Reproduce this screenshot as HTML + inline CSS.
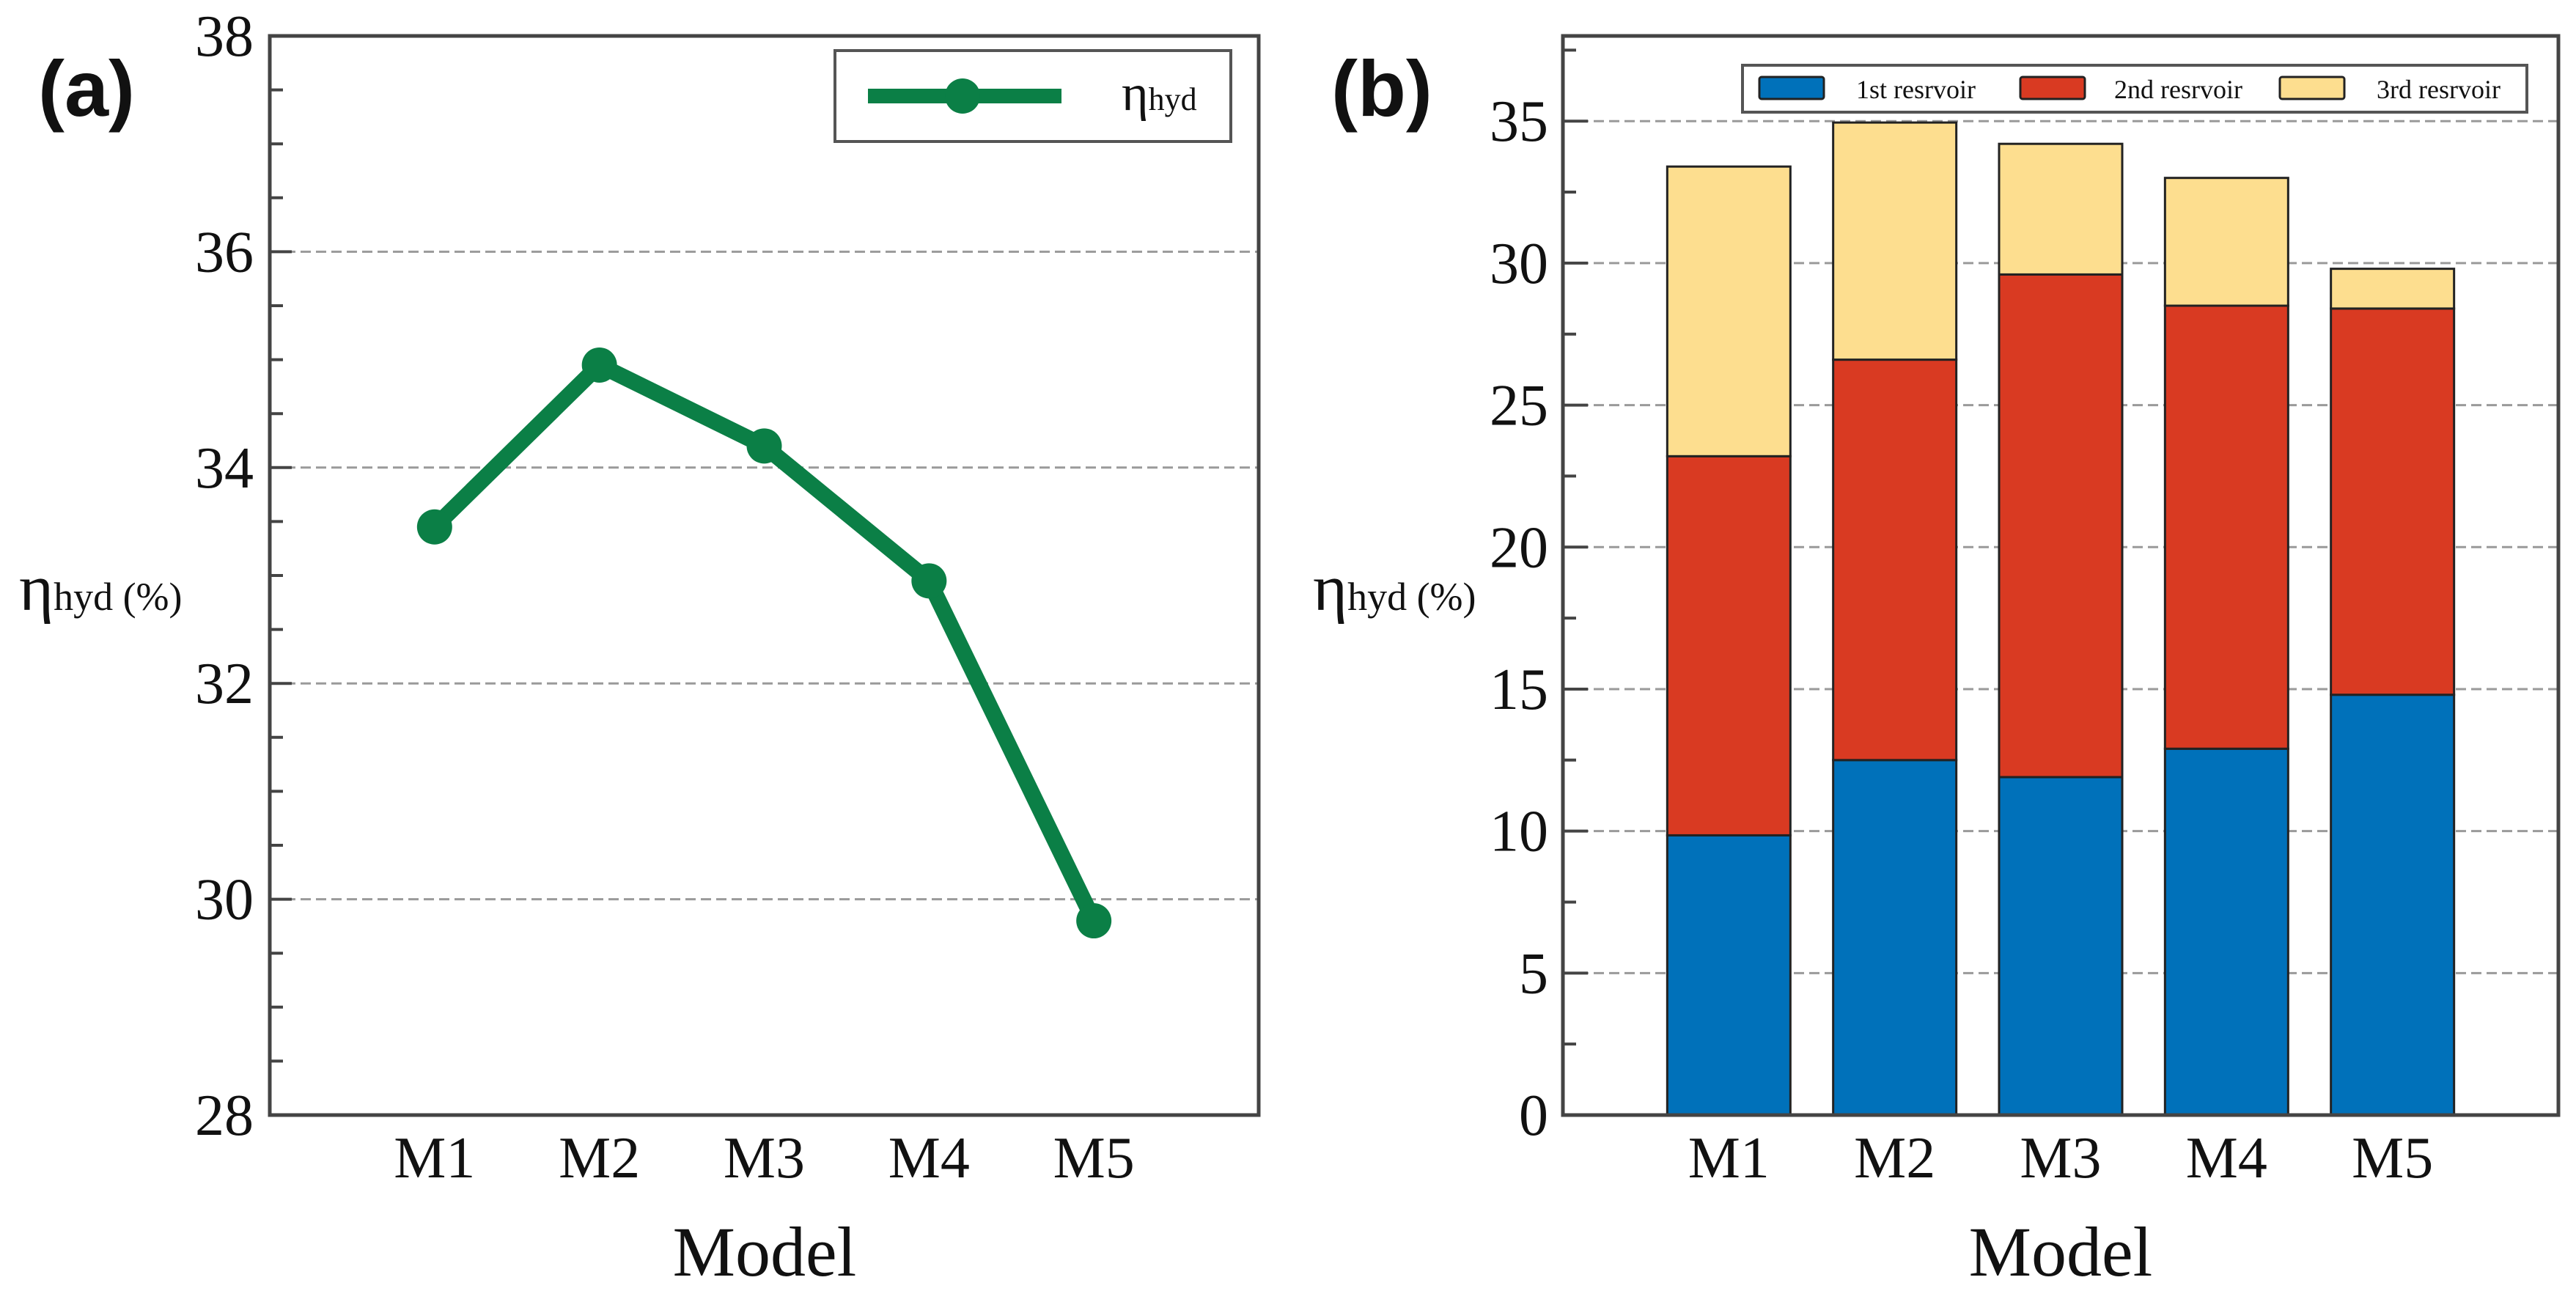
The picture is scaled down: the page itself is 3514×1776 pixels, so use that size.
<!DOCTYPE html>
<html><head><meta charset="utf-8"><style>
html,body{margin:0;padding:0;background:#fff;}
svg{display:block;}
text{font-family:"Liberation Serif",serif;fill:#111;}
</style></head><body>
<svg id="fig" width="3514" height="1776" viewBox="0 0 3514 1776" xmlns="http://www.w3.org/2000/svg">
<g id="pa"></g>
<g id="pb"></g>
</svg>
<script>
const categories = ["M1","M2","M3","M4","M5"];
const effValues = [33.45, 34.95, 34.2, 32.95, 29.8];
const aTicks = [28,30,32,34,36,38];
const aGrid = [30,32,34,36];
const res1 = [9.85, 12.5, 11.9, 12.9, 14.8];
const res2 = [13.35, 14.1, 17.7, 15.6, 13.6];
const res3 = [10.2, 8.35, 4.6, 4.5, 1.4];
const bTicks = [0,5,10,15,20,25,30,35];
const seriesNames = ["1st resrvoir","2nd resrvoir","3rd resrvoir"];
const NS="http://www.w3.org/2000/svg";
function mk(parent, tag, attrs, txt){const e=document.createElementNS(NS,tag);for(const k in attrs)e.setAttribute(k,attrs[k]);if(txt!==undefined)e.textContent=txt;parent.appendChild(e);return e;}

// ---------- Panel A ----------
const A={x0:368,x1:1717,y0:49,y1:1521,min:28,max:38};
const ax=i=>A.x0+(A.x1-A.x0)*(i+1)/6;
const ay=v=>A.y1-(v-A.min)/(A.max-A.min)*(A.y1-A.y0);
const pa=document.getElementById('pa');
aGrid.forEach(v=>{const g=mk(pa,'line',{x1:A.x0,x2:A.x1,y1:ay(v),y2:ay(v),stroke:'#9a9a9a','stroke-width':3,'stroke-dasharray':'14 7'});

});
for(let v=A.min+0.5;v<A.max;v+=0.5){const t=mk(pa,'line',{x1:A.x0,x2:A.x0+(Number.isInteger(v/2)?30:18),y1:ay(v),y2:ay(v),stroke:'#444','stroke-width':4});

}
aTicks.forEach(v=>{const t=mk(pa,'text',{x:346,y:ay(v)+27,'text-anchor':'end','font-size':80},String(v));

});
const fa=mk(pa,'rect',{x:A.x0,y:A.y0,width:A.x1-A.x0,height:A.y1-A.y0,fill:'none',stroke:'#444','stroke-width':5});


const pts=effValues.map((v,i)=>ax(i)+','+ay(v)).join(' ');
const ln=mk(pa,'polyline',{points:pts,fill:'none',stroke:'#0b7f46','stroke-width':22,'stroke-linejoin':'round'});


effValues.forEach((v,i)=>{const c=mk(pa,'circle',{cx:ax(i),cy:ay(v),r:24,fill:'#0b7f46'});

});
categories.forEach((c,i)=>{const t=mk(pa,'text',{x:ax(i),y:1606,'text-anchor':'middle','font-size':80},c);

});
// legend a
const lga=mk(pa,'g',{});


mk(lga,'rect',{x:1139,y:69,width:540,height:124,fill:'#fff',stroke:'#555','stroke-width':4});
mk(lga,'line',{x1:1184,x2:1448,y1:131,y2:131,stroke:'#0b7f46','stroke-width':20});
mk(lga,'circle',{cx:1313,cy:131,r:24,fill:'#0b7f46'});
const lt=mk(lga,'text',{x:1530,y:150,'font-size':70});
mk(lt,'tspan',{},'η');mk(lt,'tspan',{'font-size':44},'hyd');
// axis titles a
const ya=mk(pa,'text',{x:26,y:832,'font-size':90});


mk(ya,'tspan',{},'η');mk(ya,'tspan',{'font-size':54},'hyd (%)');
const xa=mk(pa,'text',{x:1043,y:1740,'text-anchor':'middle','font-size':96},'Model');


const la=mk(pa,'text',{x:52,y:158,'font-size':108,'font-weight':'bold',style:'font-family:"Liberation Sans",sans-serif'},'(a)');



// ---------- Panel B ----------
const B={x0:2132,x1:3490,y0:49,y1:1521,min:0,max:38};
const bx=i=>B.x0+(B.x1-B.x0)*(i+1)/6;
const by=v=>B.y1-(v-B.min)/(B.max-B.min)*(B.y1-B.y0);
const pb=document.getElementById('pb');
bTicks.filter(v=>v>0).forEach(v=>{const g=mk(pb,'line',{x1:B.x0,x2:B.x1,y1:by(v),y2:by(v),stroke:'#9a9a9a','stroke-width':3,'stroke-dasharray':'14 7'});

});
for(let v=2.5;v<B.max;v+=2.5){const t=mk(pb,'line',{x1:B.x0,x2:B.x0+(v%5===0?34:18),y1:by(v),y2:by(v),stroke:'#444','stroke-width':4});

}
bTicks.forEach(v=>{const t=mk(pb,'text',{x:2112,y:by(v)+27,'text-anchor':'end','font-size':80},String(v));

});
const colors=['#0071ba','#d93a22','#fdde8f'];
const bw=168;
categories.forEach((c,i)=>{
  let base=0;
  [res1,res2,res3].forEach((arr,s)=>{
    const v=arr[i];
    const r=mk(pb,'rect',{x:bx(i)-bw/2,y:by(base+v),width:bw,height:by(base)-by(base+v),fill:colors[s],stroke:'#222','stroke-width':3});
    
    
    base+=v;
  });
  const t=mk(pb,'text',{x:bx(i),y:1606,'text-anchor':'middle','font-size':80},c);
  
  
});
const fb=mk(pb,'rect',{x:B.x0,y:B.y0,width:B.x1-B.x0,height:B.y1-B.y0,fill:'none',stroke:'#444','stroke-width':5});


// legend b
const lgb=mk(pb,'g',{});


mk(lgb,'rect',{x:2377,y:89,width:1070,height:64,fill:'#fff',stroke:'#555','stroke-width':4});
const swx=[2400,2756,3110];
const tx=[2532,2884,3242];
seriesNames.forEach((n,s)=>{
  const sw=mk(lgb,'rect',{x:swx[s],y:105,width:88,height:30,fill:colors[s],stroke:'#222','stroke-width':3,rx:3});
  
  
  const t=mk(lgb,'text',{x:tx[s],y:134,'font-size':36},n);
  
  
});
const yb=mk(pb,'text',{x:1791,y:832,'font-size':90});


mk(yb,'tspan',{},'η');mk(yb,'tspan',{'font-size':54},'hyd (%)');
const xb=mk(pb,'text',{x:2811,y:1740,'text-anchor':'middle','font-size':96},'Model');


const lb=mk(pb,'text',{x:1816,y:158,'font-size':108,'font-weight':'bold',style:'font-family:"Liberation Sans",sans-serif'},'(b)');


</script>
</body></html>
